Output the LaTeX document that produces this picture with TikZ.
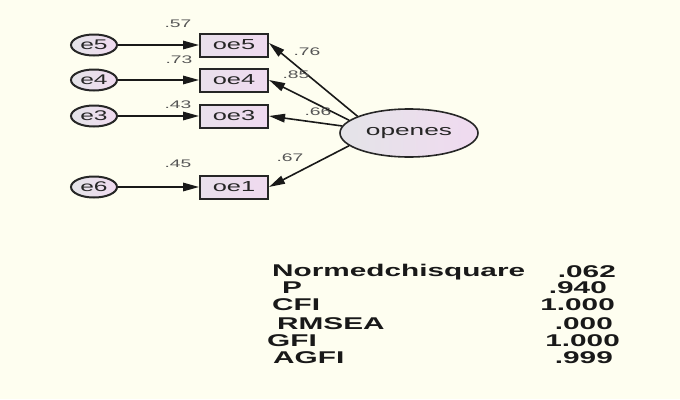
\documentclass[tikz,border=0pt]{standalone}
\usepackage{fontspec}
\setmainfont{Liberation Sans}
\newfontfamily\wfont[FakeStretch=1.75]{Liberation Sans}
\usetikzlibrary{arrows.meta,shapes.geometric}
\definecolor{bg}{HTML}{FEFEF0}
\definecolor{pinkfill}{HTML}{F0DAF0}
\definecolor{grayfill}{HTML}{E4E4E8}
\definecolor{lblgray}{HTML}{555555}
\begin{document}
\begin{tikzpicture}[x=1pt,y=-1pt,
  errnode/.style={ellipse, draw=black!85, line width=2pt, minimum width=46pt,
    minimum height=21pt, inner sep=0pt, left color=grayfill, right color=pinkfill,
    font=\wfont\fontsize{14}{14}\selectfont, text=black!85},
  obsnode/.style={rectangle, draw=black!85, line width=2pt, minimum width=68pt,
    minimum height=23pt, inner sep=0pt, left color=grayfill!60!pinkfill, right color=pinkfill,
    font=\wfont\fontsize{14.5}{14.5}\selectfont, text=black!85},
  latnode/.style={ellipse, draw=black!85, line width=1.6pt, minimum width=138pt,
    minimum height=48pt, inner sep=0pt, left color=grayfill, right color=pinkfill,
    font=\wfont\fontsize{15}{15}\selectfont, text=black!85},
  pathline/.style={line width=1.6pt, draw=black!90, -{Triangle[length=16pt,width=8.5pt]}},
  lbl/.style={font=\wfont\fontsize{11}{11}\selectfont, text=lblgray, inner sep=0pt},
  statlbl/.style={font=\wfont\bfseries\fontsize{17}{17}\selectfont, inner sep=0pt, anchor=west, text=black!90},
  statval/.style={font=\wfont\bfseries\fontsize{17}{17}\selectfont, inner sep=0pt, anchor=east, text=black!90}
]
\fill[bg] (0,0) rectangle (680,399);
\useasboundingbox (0,0) rectangle (680,399);

% error terms
\node[errnode] (e5) at (94,45) {e5};
\node[errnode] (e4) at (94,80) {e4};
\node[errnode] (e3) at (94,116) {e3};
\node[errnode] (e6) at (94,187) {e6};

% observed
\node[obsnode] (oe5) at (234,45) {oe5};
\node[obsnode] (oe4) at (234,80) {oe4};
\node[obsnode] (oe3) at (234,116) {oe3};
\node[obsnode] (oe1) at (234,187) {oe1};

% latent
\node[latnode] (op) at (409,133) {openes};

% paths
\draw[pathline] (e5) -- (oe5);
\draw[pathline] (e4) -- (oe4);
\draw[pathline] (e3) -- (oe3);
\draw[pathline] (e6) -- (oe1);

\draw[pathline] (op.162) -- ([yshift=2pt]oe5.east);
\draw[pathline] (op.168) -- (oe4.east);
\draw[pathline] (op.174) -- (oe3.east);
\draw[pathline] (op.192) -- (oe1.east);

% labels
\node[lbl] (l57) at (178,24) {.57};
\node[lbl] (l73) at (179,60) {.73};
\node[lbl] (l43) at (178,105) {.43};
\node[lbl] (l45) at (178,164) {.45};
\node[lbl] (l76) at (307,52) {.76};
\node[lbl] (l85) at (296,75) {.85};
\node[lbl] (l66) at (318,112) {.66};
\node[lbl] (l67) at (290,158) {.67};

% fit statistics
\node[statlbl] (s1) at (272,272) {Normedchisquare};
\node[statlbl] (s2) at (282,288) {P};
\node[statlbl] (s3) at (272,305) {CFI};
\node[statlbl] (s4) at (277,324) {RMSEA};
\node[statlbl] (s5) at (267,341) {GFI};
\node[statlbl] (s6) at (273,358) {AGFI};
\node[statval] (v1) at (616,272) {.062};
\node[statval] (v2) at (607,288) {.940};
\node[statval] (v3) at (615,305) {1.000};
\node[statval] (v4) at (613,324) {.000};
\node[statval] (v5) at (620,341) {1.000};
\node[statval] (v6) at (613,358) {.999};
\end{tikzpicture}
\end{document}
